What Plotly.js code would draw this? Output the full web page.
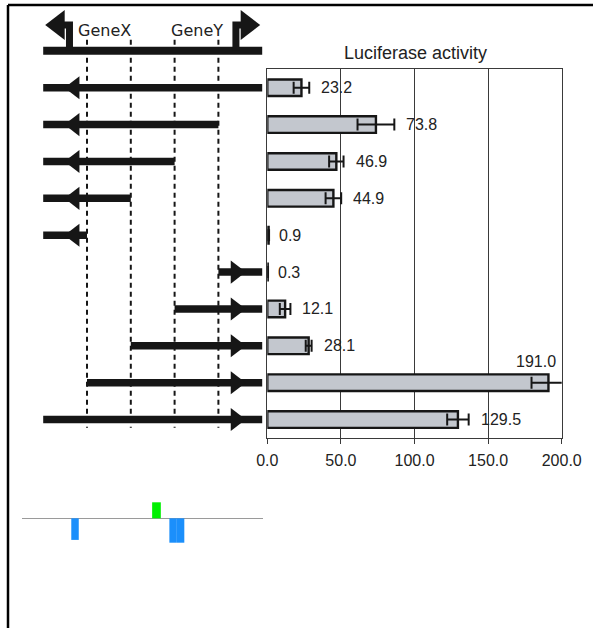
<!DOCTYPE html>
<html><head><meta charset="utf-8">
<script src="https://cdn.plot.ly/plotly-3.0.1.min.js"></script>
<style>html,body{margin:0;padding:0;background:#fff}#chart{width:593px;height:628px}</style>
</head><body><div id="chart"></div>
<script>
// ---------------- data ----------------
const rows = [1, 2, 3, 4, 5, 6, 7, 8, 9, 10];
const luciferase = [23.2, 73.8, 46.9, 44.9, 0.9, 0.3, 12.1, 28.1, 191.0, 129.5];
const luciferaseErr = [5.3, 12.5, 4.9, 5.3, 0.3, 0.2, 3.6, 2.0, 11.5, 7.3];
const valueLabels = ['23.2', '73.8', '46.9', '44.9', '0.9', '0.3', '12.1', '28.1', '191.0', '129.5'];
const xTickVals = [0, 50, 100, 150, 200];
const xTickText = ['0.0', '50.0', '100.0', '150.0', '200.0'];
const axisTitle = 'Luciferase activity';

// construct map (positions in site units, 0..5)
const fragStart = [0, 0, 0, 0, 0, 4, 3, 2, 1, 0];
const fragEnd   = [5, 4, 3, 2, 1, 5, 5, 5, 5, 5];
const fragDir   = [-1, -1, -1, -1, -1, 1, 1, 1, 1, 1];
const sitePos = [1, 2, 3, 4];
const genomeSpan = [0, 5];
const promoterStem = [0.6, 4.4];
const promoterTip = [0, 5];
const promoterDir = [-1, 1];
const promoterRise = 0.7;
const reporterTip = [0.45, 4.66];
const geneNames = ['GeneX', 'GeneY'];
const genePos = [1.4, 3.5];

// bottom track
const trackBluePos = [22.0, 62.7, 65.8];
const trackBlueVal = [-1.08, -1.22, -1.22];
const trackGreenPos = [55.8];
const trackGreenVal = [0.8];

// ---------------- geometry ----------------
const W = 593, H = 628;
const PL = 267.3, PR = 561.7, PT = 69.3, PB = 438;
const S = (PB - PT) / rows.length;
const X0 = 43.2, U = 43.8;
const TRK_L = 22, TRK_R = 263, TRK_T = 490, TRK_B = 550, TRK_BASE = 518.3, TRK_U = 20;

const ink = '#161616';
const dashTop = -0.3, dashBottom = 10.22;
const PROM_HEAD = 26, FRAG_HEAD = 20;
const triTip = size => (size / 2) * 2 / Math.sqrt(3); // px from centre to tip

const traces = [];

// bar chart
traces.push({
  type: 'bar', orientation: 'h', x: luciferase, y: rows, width: 0.45,
  marker: {color: '#c3c7ce', line: {color: ink, width: 2.4}},
  error_x: {type: 'data', array: luciferaseErr, visible: true, color: ink, thickness: 2, width: 6},
  xaxis: 'x', yaxis: 'y', hoverinfo: 'skip', cliponaxis: true
});

// dashed site lines
(function () {
  const xs = [], ys = [];
  sitePos.forEach(p => { xs.push(p, p, null); ys.push(dashTop, dashBottom, null); });
  traces.push({type: 'scatter', mode: 'lines', x: xs, y: ys, xaxis: 'x2', yaxis: 'y2',
    line: {color: ink, width: 2, dash: '5px,4px'}, hoverinfo: 'skip'});
})();

// genome line
traces.push({type: 'scatter', mode: 'lines', x: genomeSpan, y: [0, 0], xaxis: 'x2', yaxis: 'y2',
  line: {color: ink, width: 8}, hoverinfo: 'skip'});

// promoters
const promHeadX = promoterTip.map((t, i) => t - promoterDir[i] * triTip(PROM_HEAD) / U);
(function () {
  const xs = [], ys = [];
  promoterStem.forEach((s, i) => {
    xs.push(s, s, promHeadX[i], null);
    ys.push(0, -promoterRise, -promoterRise, null);
  });
  traces.push({type: 'scatter', mode: 'lines', x: xs, y: ys, xaxis: 'x2', yaxis: 'y2',
    line: {color: ink, width: 7}, hoverinfo: 'skip'});
  traces.push({type: 'scatter', mode: 'markers', x: promHeadX, y: promoterTip.map(() => -promoterRise),
    xaxis: 'x2', yaxis: 'y2', hoverinfo: 'skip',
    marker: {symbol: promoterDir.map(d => d < 0 ? 'triangle-left' : 'triangle-right'), size: PROM_HEAD, color: ink, line: {width: 0}}});
})();

// fragments
(function () {
  const xs = [], ys = [];
  rows.forEach((r, i) => { xs.push(fragStart[i], fragEnd[i], null); ys.push(r, r, null); });
  traces.push({type: 'scatter', mode: 'lines', x: xs, y: ys, xaxis: 'x2', yaxis: 'y2',
    line: {color: ink, width: 7.5}, hoverinfo: 'skip'});
  const off = triTip(FRAG_HEAD) / U;
  traces.push({type: 'scatter', mode: 'markers',
    x: fragDir.map(d => d < 0 ? reporterTip[0] + off : reporterTip[1] - off), y: rows,
    xaxis: 'x2', yaxis: 'y2', hoverinfo: 'skip',
    marker: {symbol: fragDir.map(d => d < 0 ? 'triangle-left' : 'triangle-right'), size: FRAG_HEAD, color: ink, line: {width: 0}}});
})();

// bottom track
traces.push({type: 'bar', x: trackBluePos, y: trackBlueVal, width: 3.1, xaxis: 'x3', yaxis: 'y3',
  marker: {color: '#1b8ffb', line: {width: 0}}, hoverinfo: 'skip'});
traces.push({type: 'bar', x: trackGreenPos, y: trackGreenVal, width: 3.6, xaxis: 'x3', yaxis: 'y3',
  marker: {color: '#00f000', line: {width: 0}}, hoverinfo: 'skip'});

// annotations
const font = 'Liberation Sans, Arial, sans-serif';
const annotations = [];
const pxPerVal = (PR - PL) / 200;
luciferase.forEach((v, i) => {
  const endPx = PL + (v + luciferaseErr[i]) * pxPerVal;
  const fits = endPx + 10 + valueLabels[i].length * 9 < PR;
  if (fits) {
    annotations.push({x: v + luciferaseErr[i], y: rows[i], xref: 'x', yref: 'y', text: valueLabels[i],
      showarrow: false, xanchor: 'left', yanchor: 'middle', xshift: v < 5 ? 8 : 10,
      font: {family: font, size: 16, color: '#222'}});
  } else {
    annotations.push({x: 200, y: rows[i], xref: 'x', yref: 'y', text: valueLabels[i],
      showarrow: false, xanchor: 'right', yanchor: 'middle', xshift: -4, yshift: 21,
      font: {family: font, size: 16, color: '#222'}});
  }
});
annotations.push({x: 0.505, y: 1, xref: 'x domain', yref: 'y domain', text: axisTitle, showarrow: false,
  xanchor: 'center', yanchor: 'bottom', yshift: 4, font: {family: font, size: 18, color: '#222'}});
geneNames.forEach((g, i) => {
  annotations.push({x: genePos[i], y: -0.54, xref: 'x2', yref: 'y2', text: g, showarrow: false,
    xanchor: 'center', yanchor: 'middle', font: {family: 'DejaVu Sans, sans-serif', size: 16, color: '#222'}});
});

const layout = {
  width: W, height: H, autosize: false,
  margin: {l: 0, r: 0, t: 0, b: 0, pad: 0},
  paper_bgcolor: '#fff', plot_bgcolor: 'rgba(0,0,0,0)',
  showlegend: false, barmode: 'overlay',
  xaxis: {domain: [PL / W, PR / W], range: [0, 200], tickvals: xTickVals, ticktext: xTickText,
    showgrid: true, gridcolor: '#3a3a3a', gridwidth: 1.2, zeroline: false,
    showline: true, mirror: true, linecolor: '#3a3a3a', linewidth: 1.2,
    ticks: 'outside', ticklen: 5, tickwidth: 1.2, tickcolor: '#3a3a3a', ticklabelstandoff: 3,
    tickfont: {family: font, size: 16, color: '#222'}, fixedrange: true},
  yaxis: {domain: [1 - PB / H, 1 - PT / H], range: [rows.length + 0.5, 0.5], showticklabels: false,
    showgrid: false, zeroline: false, showline: true, mirror: true, linecolor: '#3a3a3a', linewidth: 1.4,
    ticks: '', fixedrange: true},
  xaxis2: {domain: [0, PL / W], range: [-X0 / U, (PL - X0) / U], visible: false, fixedrange: true, anchor: 'y2'},
  yaxis2: {domain: [0, 1], range: [0.5 + (H - PT) / S, 0.5 - PT / S], visible: false, fixedrange: true, anchor: 'x2'},
  xaxis3: {domain: [TRK_L / W, TRK_R / W], range: [0, 100], showgrid: false, zeroline: false,
    showticklabels: false, ticks: '', showline: false, anchor: 'y3', fixedrange: true},
  yaxis3: {domain: [1 - TRK_B / H, 1 - TRK_T / H], range: [-(TRK_B - TRK_BASE) / TRK_U, (TRK_BASE - TRK_T) / TRK_U],
    showgrid: false, zeroline: true, zerolinecolor: '#9a9a9a', zerolinewidth: 1.5,
    showticklabels: false, ticks: '', showline: false, anchor: 'x3', fixedrange: true},
  annotations: annotations,
  shapes: [
    {type: 'line', xref: 'paper', yref: 'paper', x0: 8 / W, x1: 1, y0: 1 - 5 / H, y1: 1 - 5 / H, line: {color: '#000', width: 2.5}},
    {type: 'line', xref: 'paper', yref: 'paper', x0: 8 / W, x1: 8 / W, y0: 0, y1: 1 - 5 / H, line: {color: '#000', width: 2.5}}
  ]
};

Plotly.newPlot('chart', traces, layout, {displayModeBar: false, staticPlot: true});
</script>
</body></html>
